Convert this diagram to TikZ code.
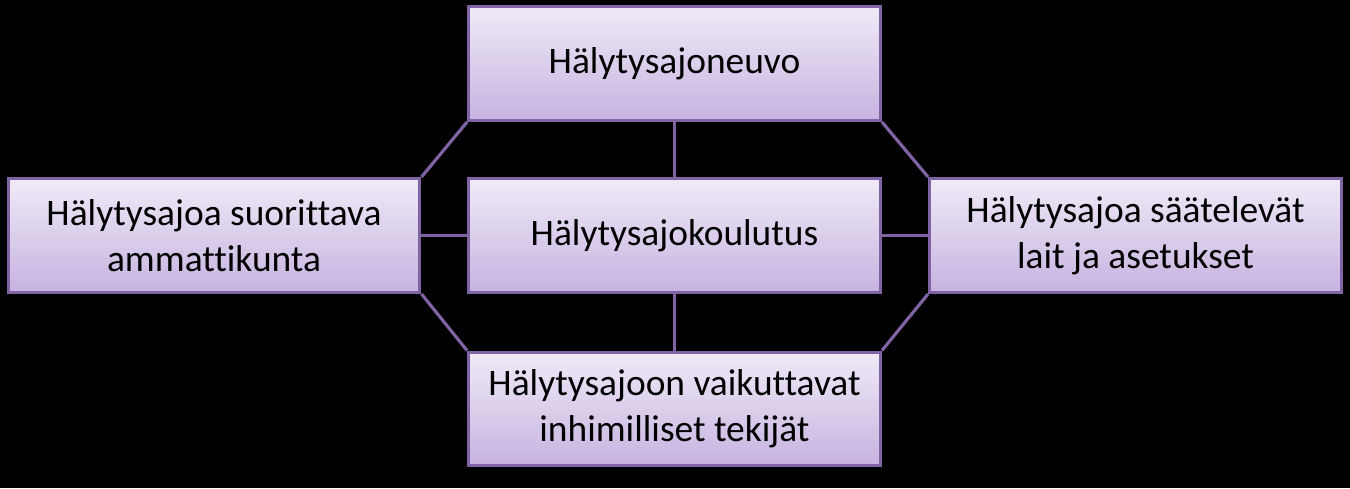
\documentclass[tikz,border=0pt]{standalone}
\usepackage{fontspec}
\setmainfont[Ligatures=NoCommon]{Carlito}
\usepackage{tikz}
\definecolor{boxtop}{HTML}{EFEAF7}
\definecolor{boxbot}{HTML}{C6B3E0}
\definecolor{edge}{HTML}{7F63A2}
\tikzset{
	topic/.style={draw=edge, line width=1.7pt, top color=boxtop, bottom color=boxbot,
		minimum width=8.24cm, minimum height=2.28cm, align=center, text=black,
		font=\fontsize{21.3}{26}\selectfont},
	link/.style={draw=edge, line width=1.8pt}
}

\begin{document}
\begin{tikzpicture}[x=0.02cm, y=0.02cm]
	\fill [black] (0,0) rectangle (1350,488);
	\useasboundingbox (0,0) rectangle (1350,488);
	
	\node [topic] (neuvo) at (674.5,424.5) {Hälytysajoneuvo};
	\node [topic] (koulutus) at (674.5,252.5) {Hälytysajokoulutus};
	\node [topic] (ammatti) at (214,252.5) {Hälytysajoa suorittava\\ammattikunta};
	\node [topic] (lait) at (1135.5,252.5) {Hälytysajoa säätelevät\\lait ja asetukset};
	\node [topic] (tekijat) at (674.5,79) {Hälytysajoon vaikuttavat\\inhimilliset tekijät};
	
	\draw [link] (neuvo.south west) -- (ammatti.north east);
	\draw [link] (ammatti.south east) -- (tekijat.north west);
	\draw [link] (neuvo.south east) -- (lait.north west);
	\draw [link] (lait.south west) -- (tekijat.north east);
	
	\draw [link] (ammatti.east) -- (koulutus.west);
	\draw [link] (koulutus.east) -- (lait.west);
	\draw [link] (neuvo.south) -- (koulutus.north);
	\draw [link] (koulutus.south) -- (tekijat.north);
\end{tikzpicture}
\end{document}
